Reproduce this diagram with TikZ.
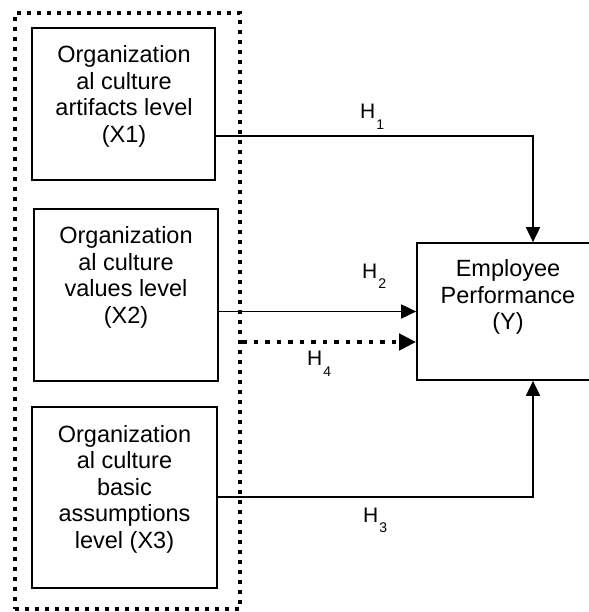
\documentclass[tikz,border=0pt]{standalone}
\usepackage{fontspec}
\setmainfont{Liberation Sans}
\usetikzlibrary{arrows.meta}
\begin{document}
\begin{tikzpicture}[x=1pt,y=-1pt,
  box/.style={draw, line width=1.7pt, inner sep=0pt},
  outer/.style={draw, line width=4pt, dash pattern=on 4pt off 6pt, inner sep=0pt, minimum width=225pt, minimum height=596pt},
  txt/.style={align=center, font=\fontsize{23.5}{26.5}\selectfont, inner sep=0pt},
  conn/.style={line width=1.8pt, -{Triangle[length=15pt,width=14pt]}},
  dconn/.style={line width=4.5pt, dash pattern=on 4.5pt off 7pt, -{Triangle[length=17pt,width=16pt]}},
  hyp/.style={font=\fontsize{21}{21}\selectfont, inner sep=0pt, anchor=base west}]
\useasboundingbox (0,0) rectangle (588,612);

\node[outer] (grp) at (127.5,311) {};

\node[box, minimum width=183pt, minimum height=152pt] (x1) at (123.5,104) {};
\node[box, minimum width=184pt, minimum height=172pt] (x2) at (126,295) {};
\node[box, minimum width=185pt, minimum height=181pt] (x3) at (124.5,497.5) {};
\node[box, minimum width=173pt, minimum height=137pt] (y) at (503.5,311.5) {};

\node[txt] (t1) at (124,96.5) {Organization\\al culture\\artifacts level\\(X1)};
\node[txt] (t2) at (126,277.5) {Organization\\al culture\\values level\\(X2)};
\node[txt] (t3) at (124.5,489) {Organization\\al culture\\basic\\assumptions\\level (X3)};
\node[txt] (ty) at (508,297) {Employee\\Performance\\(Y)};

\coordinate (c1) at (533,136);
\coordinate (c3) at (533,497);
\coordinate (h4) at (240,342);

\draw[conn] (x1.east |- c1) -| (y.north -| c1);
\draw[conn] (x2.east |- y.west) -- (y.west);
\draw[dconn] (grp.east |- h4) -- (y.west |- h4);
\draw[conn] (x3.east |- c3) -| (y.south -| c3);

\node[hyp] (l1) at (360,119) {H\kern1pt\raisebox{-10.5pt}{\fontsize{14}{14}\selectfont 1}};
\node[hyp] (l2) at (362,278) {H\kern1pt\raisebox{-10.5pt}{\fontsize{14}{14}\selectfont 2}};
\node[hyp] (l4) at (307,365) {H\kern1pt\raisebox{-11.5pt}{\fontsize{14}{14}\selectfont 4}};
\node[hyp] (l3) at (363,522) {H\kern1pt\raisebox{-10.5pt}{\fontsize{14}{14}\selectfont 3}};
\end{tikzpicture}
\end{document}
